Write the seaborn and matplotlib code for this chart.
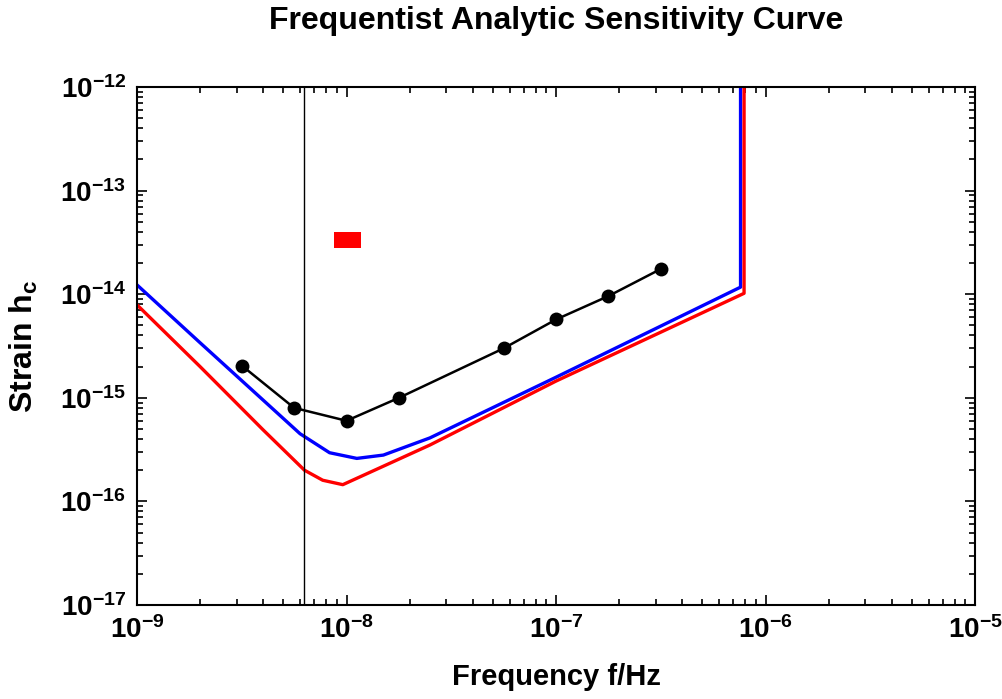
import numpy as np
import pandas as pd
import matplotlib
matplotlib.use("Agg")
import matplotlib.pyplot as plt
import seaborn as sns
from matplotlib.ticker import LogLocator, FuncFormatter, NullFormatter

# blue sensitivity curve
blue_f = [1e-9, 2e-9, 4e-9, 6e-9, 8.3e-9, 1.12e-8, 1.5e-8, 2.5e-8, 1e-7, 7.6e-7, 7.6e-7]
blue_h = [1.23e-14, 3.4e-15, 9.5e-16, 4.5e-16, 2.95e-16, 2.6e-16, 2.8e-16, 4.1e-16, 1.58e-15, 1.17e-14, 2e-12]

# red sensitivity curve
red_f = [1e-9, 2e-9, 4e-9, 6.3e-9, 7.7e-9, 9.6e-9, 2.5e-8, 1e-7, 7.9e-7, 7.9e-7]
red_h = [7.9e-15, 2.0e-15, 4.9e-16, 2.0e-16, 1.6e-16, 1.45e-16, 3.5e-16, 1.45e-15, 1.02e-14, 2e-12]

# black points
pts_f = [3.16e-9, 5.62e-9, 1e-8, 1.78e-8, 5.62e-8, 1e-7, 1.78e-7, 3.16e-7]
pts_h = [2.05e-15, 8.0e-16, 6.0e-16, 1.0e-15, 3.0e-15, 5.7e-15, 9.6e-15, 1.75e-14]

# vertical line (1/5 yr) and red box
vline_f = 6.3e-9
box_f = [8.7e-9, 1.17e-8]
box_h = [2.8e-14, 3.95e-14]

sns.set_style("ticks")
plt.rcParams['font.family'] = ['Liberation Sans', 'DejaVu Sans']
plt.rcParams['font.weight'] = 'bold'
plt.rcParams['text.color'] = 'black'
plt.rcParams['axes.labelcolor'] = 'black'
plt.rcParams['xtick.color'] = 'black'
plt.rcParams['ytick.color'] = 'black'
plt.rcParams['mathtext.fontset'] = 'custom'
plt.rcParams['mathtext.rm'] = 'Liberation Sans:bold'
plt.rcParams['mathtext.bf'] = 'Liberation Sans:bold'
plt.rcParams['mathtext.it'] = 'Liberation Sans:bold'

fig = plt.figure(figsize=(10.03, 6.99), dpi=100)
ax = fig.add_axes([0.1366, 0.1345, 0.8355, 0.741])

blue = pd.DataFrame({"f": blue_f, "h": blue_h})
red = pd.DataFrame({"f": red_f, "h": red_h})
pts = pd.DataFrame({"f": pts_f, "h": pts_h})

sns.lineplot(data=blue, x="f", y="h", sort=False, estimator=None, color="#0000ff", lw=2.4, ax=ax)
sns.lineplot(data=red, x="f", y="h", sort=False, estimator=None, color="#ff0000", lw=2.4, ax=ax)
sns.lineplot(data=pts, x="f", y="h", sort=False, estimator=None, color="black", lw=1.8,
             marker="o", markersize=10, markeredgewidth=0, ax=ax)
ax.axvline(vline_f, color="black", lw=1.0)
ax.fill_between(box_f, box_h[0], box_h[1], color="#ff0000", lw=0)

ax.set_xscale("log")
ax.set_yscale("log")
ax.set_xlim(1e-9, 1e-5)
ax.set_ylim(1e-17, 1e-12)

fmt = FuncFormatter(lambda v, p: r"$\mathbf{10^{%d}}$" % int(round(np.log10(v))))
ax.xaxis.set_major_locator(LogLocator(base=10, numticks=10))
ax.yaxis.set_major_locator(LogLocator(base=10, numticks=10))
ax.xaxis.set_major_formatter(fmt)
ax.yaxis.set_major_formatter(fmt)
ax.xaxis.set_minor_formatter(NullFormatter())
ax.yaxis.set_minor_formatter(NullFormatter())
ax.tick_params(which="both", direction="in", top=True, right=True, labelsize=20, width=1.2)
ax.tick_params(which="major", length=7, pad=8)
ax.tick_params(which="minor", length=4)
for s in ax.spines.values():
    s.set_linewidth(1.5)
    s.set_color("black")

ax.set_xlabel("Frequency f/Hz", fontsize=21, fontweight="bold", labelpad=14)
ax.set_ylabel(r"Strain h$_\mathbf{c}$", fontsize=23, fontweight="bold", labelpad=14)
ax.set_title("Frequentist Analytic Sensitivity Curve", fontsize=23, fontweight="bold", pad=42)

fig.savefig("out.png", dpi=100)
